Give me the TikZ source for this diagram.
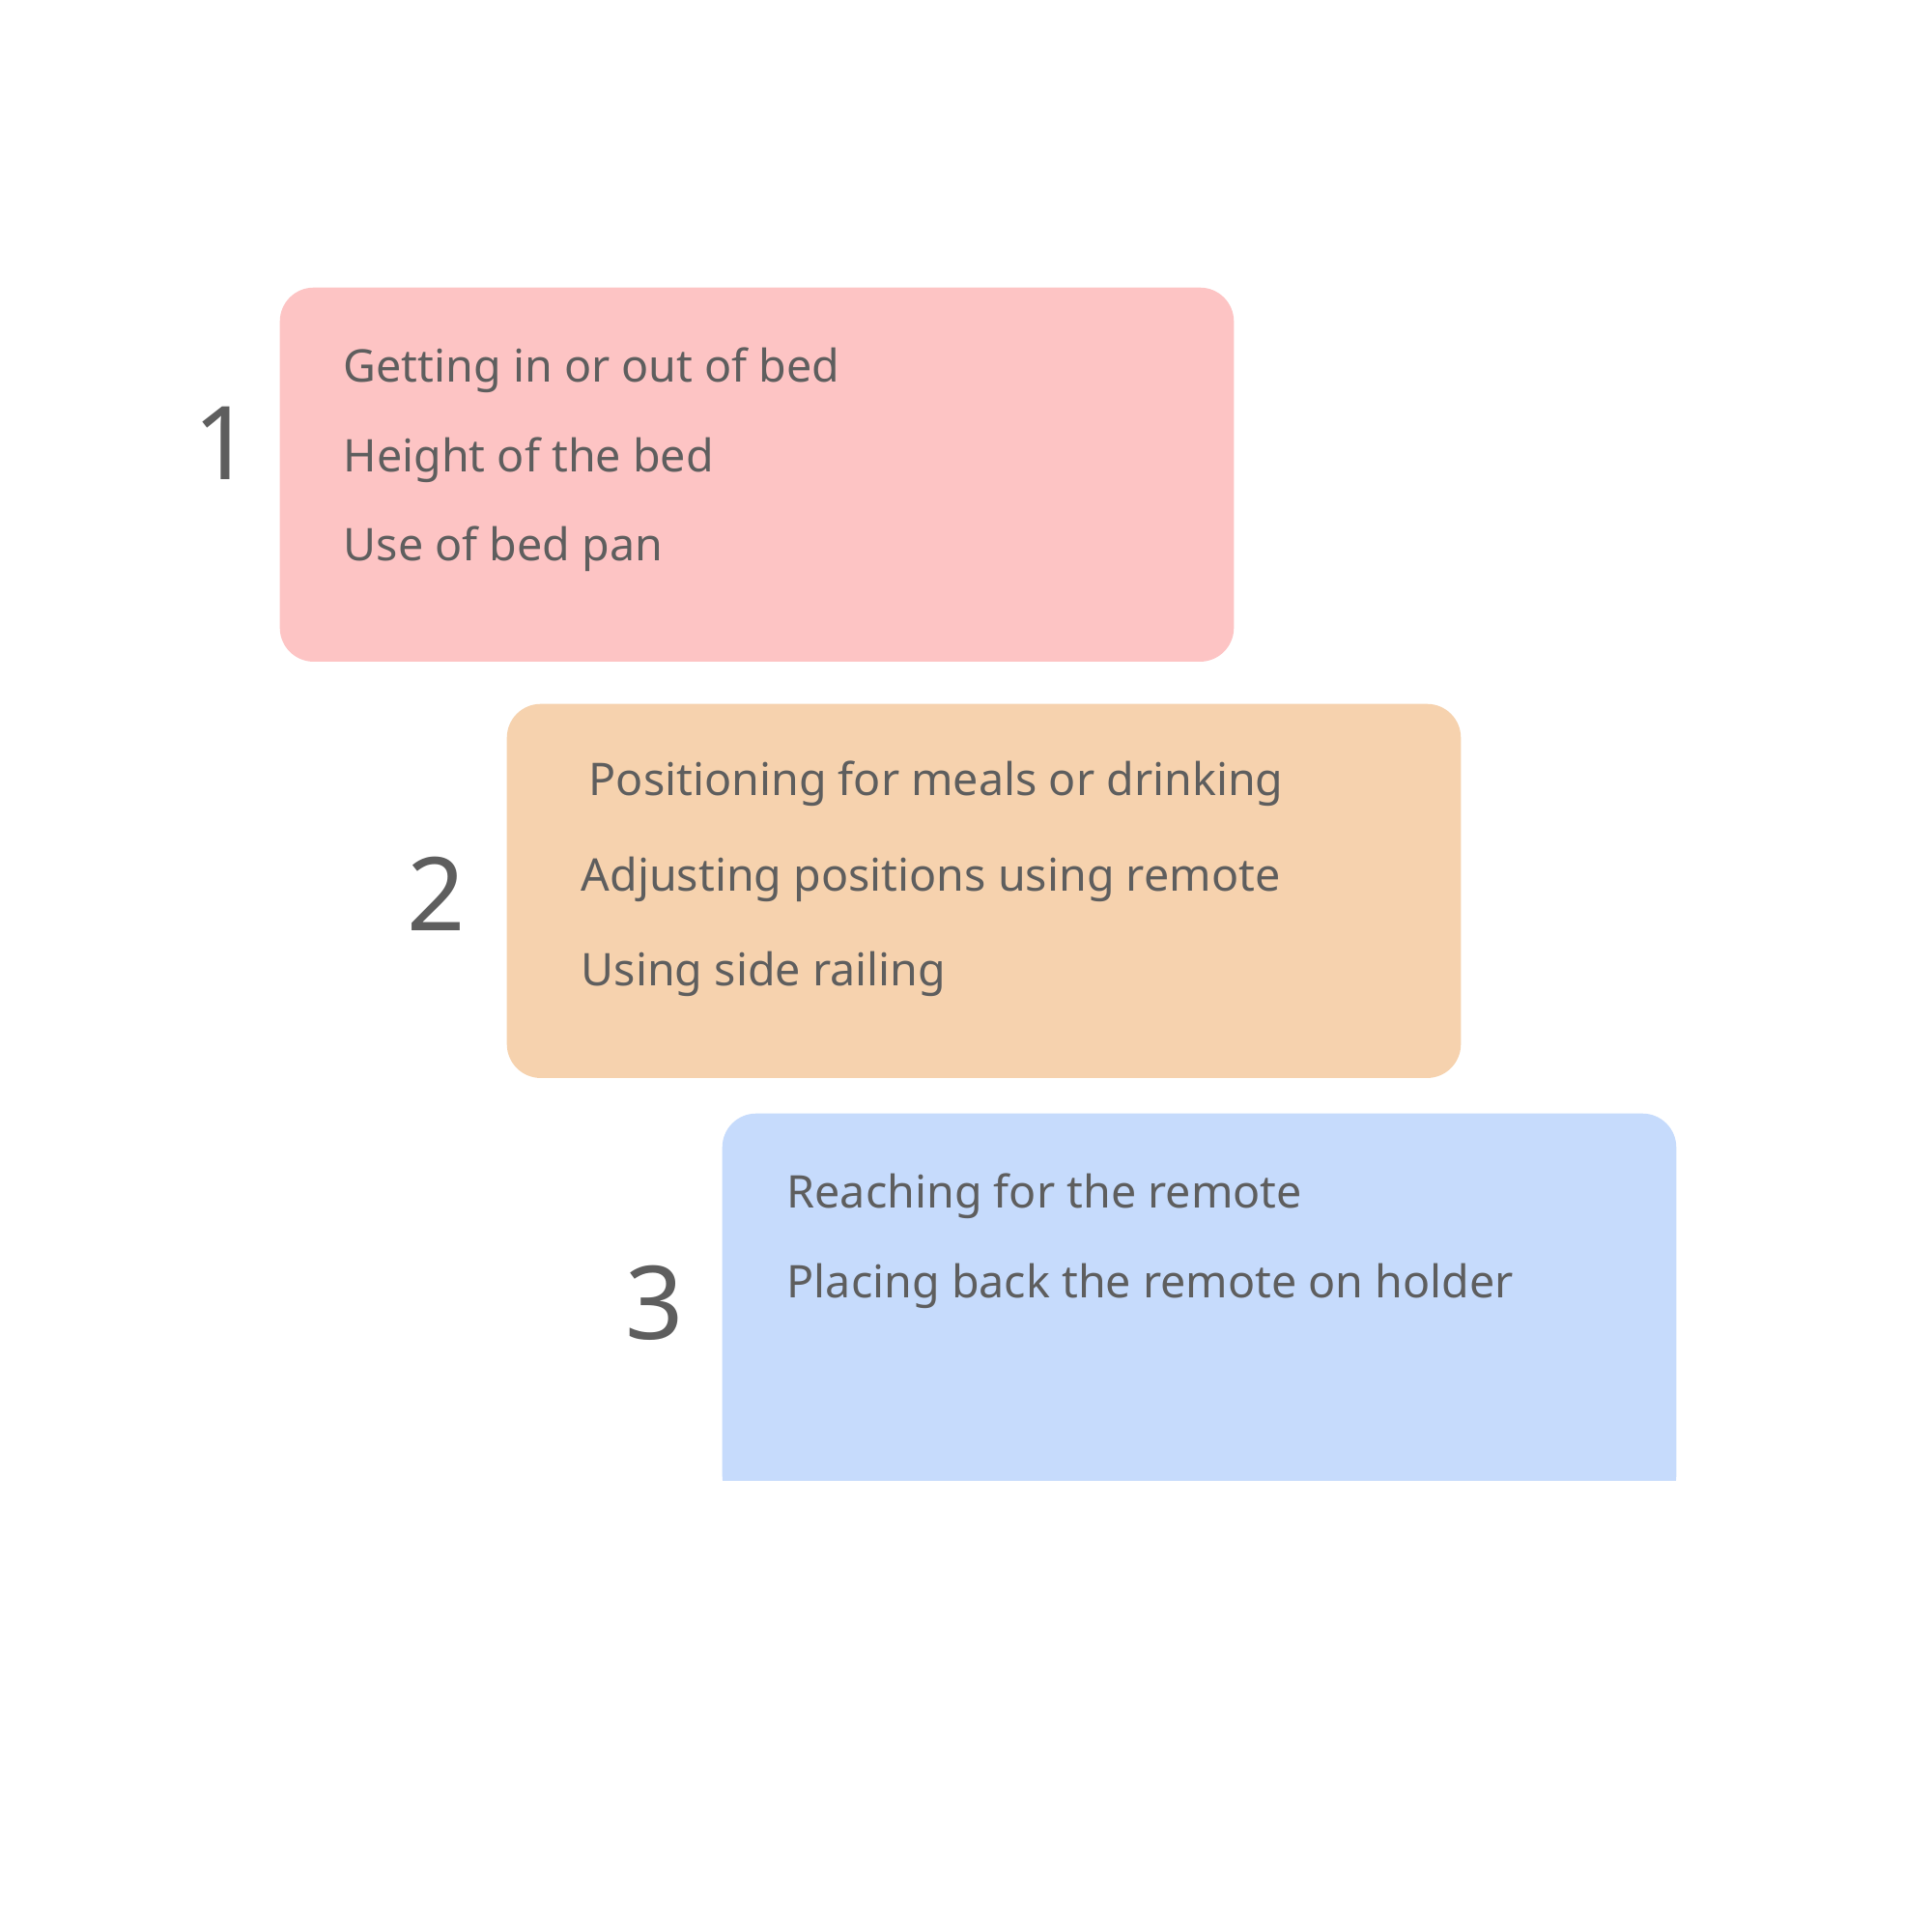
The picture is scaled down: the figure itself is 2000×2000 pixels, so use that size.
\documentclass[tikz,border=0pt]{standalone}
\usepackage{fontspec}
\setmainfont{Noto Sans}
\usepackage{tikz}
\usetikzlibrary{positioning}
\definecolor{pinkfill}{HTML}{FDC4C4}
\definecolor{orangefill}{HTML}{F6D2AE}
\definecolor{bluefill}{HTML}{C6DBFC}
\definecolor{textgray}{HTML}{5E5E5E}
\begin{document}
\begin{tikzpicture}[
        x=0.01cm, y=-0.01cm,
        box/.style={rounded corners=0.35cm, inner sep=0pt, anchor=north west, minimum width=9.87cm, minimum height=3.87cm},
        item/.style={anchor=base west, inner sep=0pt, text=textgray, font=\fontsize{13.25}{16}\selectfont},
        num/.style={anchor=base, inner sep=0pt, text=textgray, font=\fontsize{30}{36}\selectfont}
    ]
        \useasboundingbox[fill=white] (0,0) rectangle (2000,2000);

        % boxes
        \node[box, fill=pinkfill] (box1) at (289,297) {};
        \node[box, fill=orangefill] (box2) at (524,728) {};
        \begin{scope}
            \clip (700,1100) rectangle (1800,1532);
            \node[box, fill=bluefill, minimum height=4.1cm] (box3) at (747,1152) {};
        \end{scope}

        % numbers
        \node[num] (n1) at (231,496) {1};
        \node[num] (n2) at (452,963) {2};
        \node[num] (n3) at (678,1386) {3};

        % first group
        \node[item] (a1) at (355,395) {Getting in or out of bed};
        \node[item] (a2) at (355,488) {Height of the bed};
        \node[item] (a3) at (355,580) {Use of bed pan};

        % second group
        \node[item] (b1) at (609,823) {Positioning for meals or drinking};
        \node[item] (b2) at (601,922) {Adjusting positions using remote};
        \node[item] (b3) at (601,1020) {Using side railing};

        % third group
        \node[item] (c1) at (814,1250) {Reaching for the remote};
        \node[item] (c2) at (814,1343) {Placing back the remote on holder};
    \end{tikzpicture}
\end{document}
